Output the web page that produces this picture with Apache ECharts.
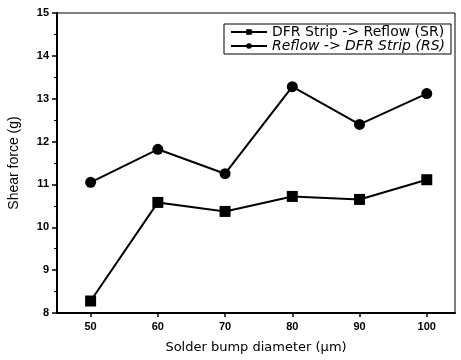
<!DOCTYPE html>
<html>
<head>
<meta charset="utf-8">
<script src="https://cdn.jsdelivr.net/npm/echarts@6/dist/echarts.min.js"></script>
<style>
  html, body { margin: 0; padding: 0; background: #fff; }
  #chart { width: 461px; height: 360px; }
</style>
</head>
<body>
<div id="chart"></div>
<script>
const diameters = [50, 60, 70, 80, 90, 100];
const srForce = [8.28, 10.58, 10.37, 10.72, 10.65, 11.11];
const rsForce = [11.05, 11.82, 11.25, 13.28, 12.40, 13.12];
const xTicks = [50, 60, 70, 80, 90, 100];

const chart = echarts.init(document.getElementById('chart'));
const font = 'Liberation Sans, Arial, sans-serif';
const wide = 'DejaVu Sans, sans-serif';
const narrow = 'Liberation Sans Narrow, Liberation Sans, sans-serif';

const pairs = (ys) => diameters.map((d, i) => [d, ys[i]]);

chart.setOption({
    animation: false,
    textStyle: { fontFamily: font, color: '#000' },
    grid: {
        left: 57, right: 6, top: 13, bottom: 47,
        outerBoundsMode: 'none',
        show: true, borderColor: '#000', borderWidth: 1
    },
    legend: {
        orient: 'vertical',
        left: 224, top: 24,
        borderColor: '#000', borderWidth: 1,
        padding: [1, 6, 1, 6],
        itemGap: 0,
        itemWidth: 36, itemHeight: 7,
        textStyle: { fontSize: 14, color: '#000', fontFamily: wide, lineHeight: 13 },
        data: [
            { name: 'DFR Strip -> Reflow (SR)' },
            { name: 'Reflow -> DFR Strip (RS)', textStyle: { fontStyle: 'italic' } }
        ]
    },
    xAxis: {
        type: 'value',
        min: 45, max: 104.2,
        name: 'Solder bump diameter (\u00b5m)',
        nameLocation: 'middle', nameGap: 28,
        nameTextStyle: { fontSize: 13, color: '#000', fontFamily: wide },
        splitLine: { show: false },
        axisLine: { lineStyle: { color: '#000', width: 2 } },
        axisTick: { customValues: xTicks, length: 4, lineStyle: { color: '#000', width: 1.5 } },
        axisLabel: { customValues: xTicks, fontSize: 11, color: '#000', fontWeight: 'bold', margin: 8 }
    },
    yAxis: {
        type: 'value',
        min: 8, max: 15, interval: 1,
        name: 'Shear force (g)',
        nameLocation: 'middle', nameGap: 36,
        nameTextStyle: { fontSize: 14, color: '#000', fontFamily: narrow },
        splitLine: { show: false },
        axisLine: { show: true, lineStyle: { color: '#000', width: 2 } },
        axisTick: { length: 5, lineStyle: { color: '#000', width: 1.5 } },
        minorTick: { show: true, splitNumber: 2, length: 3, lineStyle: { color: '#000' } },
        axisLabel: { fontSize: 11, color: '#000', fontWeight: 'bold', margin: 8 }
    },
    series: [
        {
            name: 'DFR Strip -> Reflow (SR)',
            type: 'line',
            data: pairs(srForce),
            symbol: 'rect', symbolSize: 11,
            itemStyle: { color: '#000' },
            lineStyle: { color: '#000', width: 2 }
        },
        {
            name: 'Reflow -> DFR Strip (RS)',
            type: 'line',
            data: pairs(rsForce),
            symbol: 'circle', symbolSize: 11,
            itemStyle: { color: '#000' },
            lineStyle: { color: '#000', width: 2 }
        }
    ]
});
</script>
</body>
</html>
